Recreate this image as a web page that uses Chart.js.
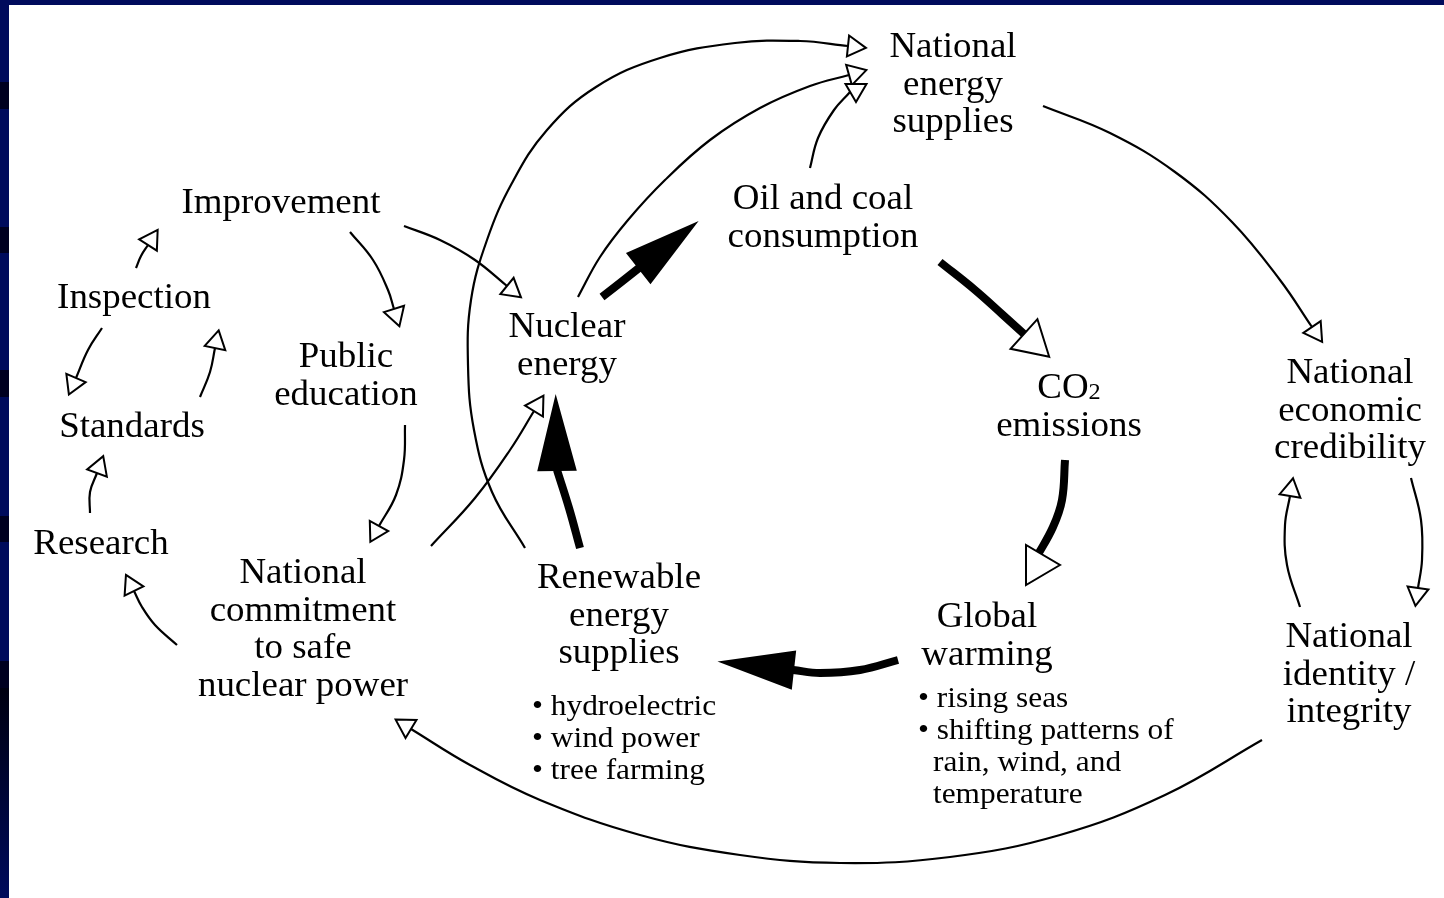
<!DOCTYPE html>
<html>
<head>
<meta charset="utf-8">
<title>Nuclear energy causal loops</title>
<script src="https://cdn.jsdelivr.net/npm/chart.js@4.4.1/dist/chart.umd.min.js"></script>
<style>
html, body { margin: 0; padding: 0; background: #fff; }
#wrap { width: 1444px; height: 898px; }
</style>
</head>
<body>
<div id="wrap"><canvas id="chart_area" width="1444" height="898"></canvas></div>
<script>
'use strict';

// Diagram space: x 0..1444, y 0..898 (y grows downwards)

//Nodes
var nodeText = [
    ['National', 'energy', 'supplies'],
    ['Oil and coal', 'consumption'],
    ['Improvement'],
    ['Inspection'],
    ['Standards'],
    ['Research'],
    ['Public', 'education'],
    ['Nuclear', 'energy'],
    ['CO_2', 'emissions'],
    ['National', 'economic', 'credibility'],
    ['National', 'identity /', 'integrity'],
    ['Global', 'warming'],
    ['Renewable', 'energy', 'supplies'],
    ['National', 'commitment', 'to safe', 'nuclear power']
];
var nodeX = [953, 823, 281, 134, 132, 101, 346, 567, 1069, 1350, 1349, 987, 619, 303];
var nodeY = [57, 209, 213, 308, 437, 554, 367, 337, 398, 383, 647, 627, 588, 583];   // first baseline

//Bullet lists
var bulletText = [
    ['• hydroelectric', '• wind power', '• tree farming'],
    ['• rising seas', '• shifting patterns of', 'rain, wind, and', 'temperature']
];
var bulletX = [532, 918];
var bulletY = [715, 707];

//Links: points along each arrow, the last one is where the head sits
var linkPath = [
    [[404, 226], [440, 240], [475, 260], [507, 286]],                       // Improvement -> Nuclear
    [[350, 232], [373, 260], [388, 290], [394, 309]],                       // Improvement -> Public education
    [[405, 425], [404, 460], [396, 495], [379, 526]],                       // Public education -> commitment
    [[177, 645], [155, 625], [142, 607], [134, 591]],                       // commitment -> Research
    [[90, 513], [90, 492], [97, 473]],                                      // Research -> Standards
    [[200, 397], [210, 372], [215, 348]],                                   // Standards -> Inspection
    [[102, 328], [88, 350], [76, 378]],                                     // Inspection -> Standards
    [[136, 268], [141, 256], [148, 245]],                                   // Inspection -> Improvement
    [[431, 546], [475, 498], [510, 450], [534, 411]],                       // commitment -> Nuclear
    [[525, 548], [492, 492], [474, 430], [468, 365], [471, 300], [487, 240], [512, 183],
     [547, 130], [596, 87], [660, 58], [735, 43], [800, 41], [848, 46]],    // Renewable -> National energy
    [[578, 297], [600, 257], [628, 220], [665, 180], [710, 140], [760, 108],
     [810, 86], [849, 75]],                                                 // Nuclear -> National energy
    [[810, 168], [818, 138], [834, 110], [850, 92], [856, 84]],             // Oil and coal -> National energy
    [[1043, 106], [1110, 133], [1175, 172], [1232, 222], [1280, 280], [1312, 327]], // National energy -> credibility
    [[1411, 478], [1421, 520], [1422, 560], [1418, 588]],                   // credibility -> identity
    [[1300, 607], [1287, 565], [1285, 525], [1290, 496]],                   // identity -> credibility
    [[1262, 740], [1165, 795], [1060, 835], [950, 857], [840, 863], [740, 855],
     [640, 835], [540, 800], [470, 765], [411, 729]],                       // identity -> commitment
    [[602, 297], [620, 283], [639, 268]],                                   // Nuclear -> Oil and coal
    [[940, 262], [975, 290], [1003, 315], [1024, 334]],                     // Oil and coal -> CO2
    [[1065, 460], [1062, 500], [1053, 527], [1036, 558]],                   // CO2 -> Global warming
    [[898, 660], [860, 670], [820, 673], [793, 670]],                       // Global warming -> Renewable
    [[580, 548], [569, 508], [557, 470]]                                    // Renewable -> Nuclear
];
var linkKind = ['thin', 'thin', 'thin', 'thin', 'thin', 'thin', 'thin', 'thin', 'thin', 'thin',
                'thin', 'thin', 'thin', 'thin', 'thin', 'thin',
                'solid', 'open', 'open', 'solid', 'solid'];
// heads that are not turned along the line in the original: [angle, shift x, shift y]
var linkHeadTurn = { 11: [90, 0, 0], 18: [0, -10, 7], 20: [-91, 0, 0] };

var kindStyle = {
    thin:  { line: 2.2, len: 18, wid: 21, fill: '#fff' },
    open:  { line: 8,   len: 34, wid: 40, fill: '#fff' },
    solid: { line: 8,   len: 72, wid: 37, fill: '#000' }
};

var serif = '"Liberation Serif", "Times New Roman", serif';

//Datasets
var datasets = linkPath.map(function(path, i){
    return {
        data: path.map(function(p){ return { x: p[0], y: p[1] }; }),
        showLine: true,
        borderColor: '#000',
        borderWidth: kindStyle[linkKind[i]].line,
        borderCapStyle: 'butt',
        pointRadius: 0,
        tension: 0.4,
        fill: false
    };
});

//Arrow heads
var headPlugin = {
    id: 'heads',
    afterDatasetsDraw: function(chart){
        var ctx = chart.ctx;
        chart.data.datasets.forEach(function(ds, i){
            var pts = chart.getDatasetMeta(i).data;
            var b = pts[pts.length - 1], a = pts[pts.length - 2];
            var bx = b.x, by = b.y, ang = Math.atan2(b.y - a.y, b.x - a.x);
            if(i in linkHeadTurn){
                ang = linkHeadTurn[i][0] * Math.PI / 180;
                bx += linkHeadTurn[i][1];
                by += linkHeadTurn[i][2];
            }
            var st = kindStyle[linkKind[i]];
            var dx = Math.cos(ang), dy = Math.sin(ang);
            ctx.save();
            ctx.beginPath();
            ctx.moveTo(bx + dx * st.len, by + dy * st.len);
            ctx.lineTo(bx - dy * st.wid / 2, by + dx * st.wid / 2);
            ctx.lineTo(bx + dy * st.wid / 2, by - dx * st.wid / 2);
            ctx.closePath();
            ctx.fillStyle = st.fill;
            ctx.fill();
            ctx.lineWidth = 2;
            ctx.lineJoin = 'miter';
            ctx.strokeStyle = '#000';
            ctx.stroke();
            ctx.restore();
        });
    }
};

// text a little wider than Liberation Serif, like the original Times
function wideText(ctx, t, x, y, size, stretch, align){
    ctx.font = size + 'px ' + serif;
    var w = ctx.measureText(t).width * stretch;
    var x0 = align === 'center' ? x - w / 2 : x;
    ctx.save();
    ctx.translate(x0, y);
    ctx.scale(stretch, 1);
    ctx.textAlign = 'left';
    ctx.fillText(t, 0, 0);
    ctx.restore();
    return w;
}

//Labels + slide frame
var labelPlugin = {
    id: 'labels',
    afterDraw: function(chart){
        var ctx = chart.ctx, sx = chart.scales.x, sy = chart.scales.y;
        ctx.save();
        ctx.fillStyle = '#000';
        ctx.textBaseline = 'alphabetic';

        nodeText.forEach(function(lines, i){
            lines.forEach(function(t, k){
                var x = sx.getPixelForValue(nodeX[i]);
                var y = sy.getPixelForValue(nodeY[i] + k * 37.5);
                if(t.indexOf('_') >= 0){
                    var parts = t.split('_');
                    ctx.font = '35px ' + serif;
                    var w1 = ctx.measureText(parts[0]).width * 1.055;
                    ctx.font = '23px ' + serif;
                    var w2 = ctx.measureText(parts[1]).width * 1.055;
                    var x0 = x - (w1 + w2) / 2;
                    wideText(ctx, parts[0], x0, y, 35, 1.055, 'left');
                    wideText(ctx, parts[1], x0 + w1, y + 1, 23, 1.055, 'left');
                }else{
                    wideText(ctx, t, x, y, 35, 1.055, 'center');
                }
            });
        });

        bulletText.forEach(function(lines, i){
            lines.forEach(function(t, k){
                var indent = t.charAt(0) === '•' ? 0 : 15;
                wideText(ctx, t, sx.getPixelForValue(bulletX[i] + indent), sy.getPixelForValue(bulletY[i] + k * 32), 30, 1.045, 'left');
            });
        });

        // frame of the slide
        var navy = '#000b5c', dark = '#000020';
        ctx.fillStyle = navy;
        ctx.fillRect(0, 0, chart.width, 5);
        ctx.fillRect(0, 0, 9, chart.height);
        ctx.fillStyle = dark;
        [[82, 27], [227, 26], [370, 27], [516, 26], [661, 27]].forEach(function(s){
            ctx.fillRect(0, s[0], 9, s[1]);
        });
        var g = ctx.createLinearGradient(0, 688, 0, chart.height);
        g.addColorStop(0, '#000010');
        g.addColorStop(1, navy);
        ctx.fillStyle = g;
        ctx.fillRect(0, 688, 9, chart.height - 688);
        ctx.restore();
    }
};

var config = {
    type: 'scatter',
    data: { datasets: datasets },
    options: {
        responsive: false,
        devicePixelRatio: 1,
        animation: false,
        layout: { padding: 0 },
        plugins: { legend: { display: false }, tooltip: { enabled: false } },
        elements: { point: { radius: 0, hoverRadius: 0 } },
        scales: {
            x: { type: 'linear', min: 0, max: 1444, display: false },
            y: { type: 'linear', min: 0, max: 898, reverse: true, display: false }
        }
    },
    plugins: [headPlugin, labelPlugin]
};

var ctx = document.getElementById('chart_area').getContext('2d');
window.myDiagram = new Chart(ctx, config);
</script>
</body>
</html>
